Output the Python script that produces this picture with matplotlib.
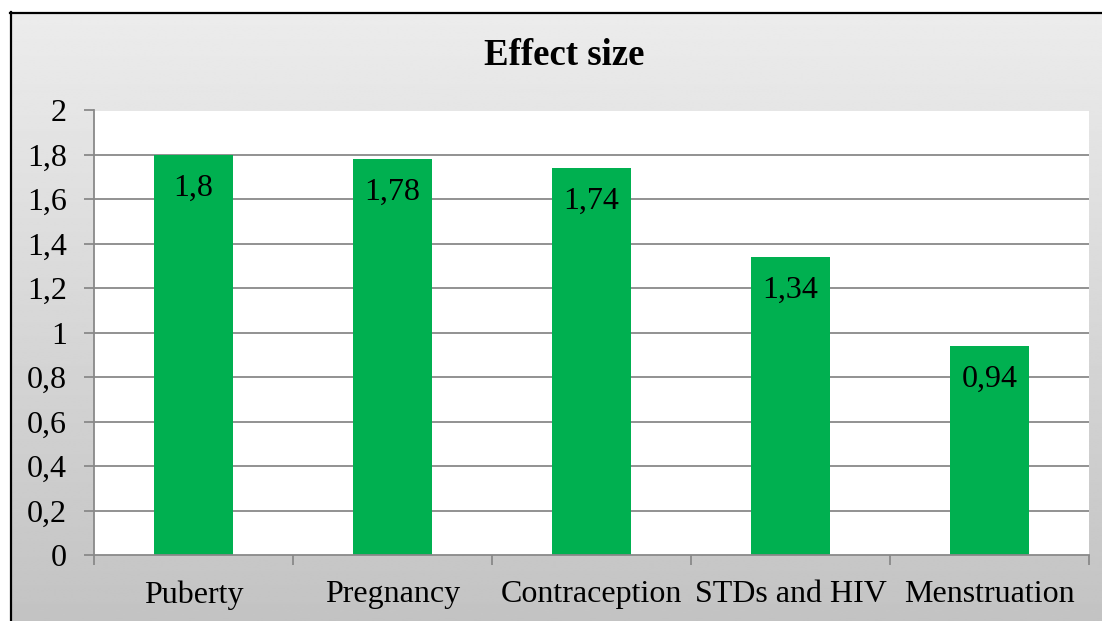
import numpy as np
import matplotlib
matplotlib.use("Agg")
import matplotlib.pyplot as plt
from matplotlib.lines import Line2D

categories = ["Puberty", "Pregnancy", "Contraception", "STDs and HIV", "Menstruation"]
values = [1.8, 1.78, 1.74, 1.34, 0.94]
value_labels = ["1,8", "1,78", "1,74", "1,34", "0,94"]
yticks = [0, 0.2, 0.4, 0.6, 0.8, 1.0, 1.2, 1.4, 1.6, 1.8, 2.0]
ytick_labels = ["0", "0,2", "0,4", "0,6", "0,8", "1", "1,2", "1,4", "1,6", "1,8", "2"]
title = "Effect size"

W, H = 1102, 621
plt.rcParams['font.family'] = ['Liberation Serif', 'DejaVu Serif']
fig = plt.figure(figsize=(W / 100, H / 100), dpi=100)
fig.patch.set_facecolor("white")

# background gradient inside the chart border
bg = fig.add_axes([10 / W, 0, 1 - 10 / W, 1 - 12 / H], zorder=-10)
grad = np.linspace(236, 195, 300)[:, None] / 255.0
bg.imshow(np.repeat(grad, 2, axis=1), aspect='auto', cmap='gray', vmin=0, vmax=1,
          extent=[0, 1, 0, 1], interpolation='bilinear')
bg.set_xlim(0, 1)
bg.set_ylim(0, 1)
bg.axis('off')

# black border (left and top)
fig.add_artist(Line2D([10.5 / W, 10.5 / W], [0, 1 - 12 / H], color='black', lw=1.6,
                      transform=fig.transFigure))
fig.add_artist(Line2D([10 / W, 1], [1 - 12.5 / H, 1 - 12.5 / H], color='black', lw=1.6,
                      transform=fig.transFigure))

ax_l, ax_r = 94 / W, 1089 / W
ax_b, ax_t = 1 - 555 / H, 1 - 110 / H
ax = fig.add_axes([ax_l, ax_b, ax_r - ax_l, ax_t - ax_b])
ax.set_facecolor("white")
ax.patch.set_zorder(0)

x = np.arange(len(categories))
grid_c = "#898989"
for yv in yticks[1:-1]:
    ax.axhline(yv, color=grid_c, lw=1.3, zorder=1)
ax.axhline(2.0, color="#e4e4e4", lw=1.3, zorder=1)

ax.bar(x, values, width=0.4, color="#00B050", zorder=2)

for xi, v, lab in zip(x, values, value_labels):
    ax.annotate(lab, xy=(xi, v), xytext=(0, -29.5), textcoords='offset points',
                ha='center', va='baseline', fontsize=23, color='black', zorder=3)

ax.set_xlim(-0.5, len(categories) - 0.5)
ax.set_ylim(0, 2)

for s in ['top', 'right']:
    ax.spines[s].set_visible(False)
for s in ['left', 'bottom']:
    ax.spines[s].set_color(grid_c)
    ax.spines[s].set_linewidth(1.3)
    ax.spines[s].set_zorder(4)

ax.set_yticks(yticks)
ax.set_yticklabels(ytick_labels, fontsize=23)
ax.tick_params(axis='y', length=7.2, width=1.3, color=grid_c, pad=12.5, direction='out')

ax.set_xticks(np.arange(-0.5, len(categories), 1.0))
ax.set_xticklabels([])
ax.tick_params(axis='x', which='major', length=7.2, width=1.3, color=grid_c, direction='out')
ax.set_xticks(x, minor=True)
ax.set_xticklabels(categories, minor=True, fontsize=23)
ax.tick_params(axis='x', which='minor', length=0, pad=18)

fig.text(564 / W, 1 - 65 / H, title, ha='center', va='baseline', fontsize=26.5,
         fontweight='bold')

fig.savefig("out.png", dpi=100)
